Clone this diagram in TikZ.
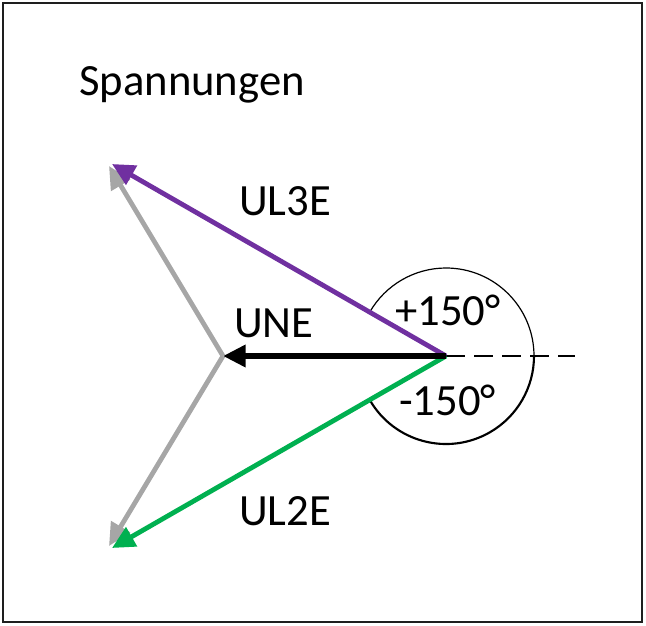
\documentclass[tikz,border=0pt]{standalone}
\usepackage{fontspec}
\setmainfont{Carlito}
\usepackage{tikz}
\usetikzlibrary{arrows.meta}
\definecolor{ulpurple}{RGB}{112,48,160}
\definecolor{ulgreen}{RGB}{0,176,80}
\definecolor{ulgrey}{RGB}{166,166,166}
\tikzset{
  lbl/.style={anchor=base west, inner sep=0pt, font=\fontsize{33.5}{40}\selectfont},
  vec/.style={line width=3.6pt, -{Triangle[length=17pt, width=16pt]}},
}
\begin{document}
\begin{tikzpicture}[x=0.75pt,y=0.75pt,yscale=-1,xscale=1]
\useasboundingbox (0,0) rectangle (646,625);

%Frame
\draw [line width=1.5pt, color={rgb, 255:red, 30; green, 30; blue, 30}] (3,3) rectangle (642,622);

%Points
\coordinate (O) at (446,356);
\coordinate (C) at (223,356);
\coordinate (G3) at (109,166);
\coordinate (G2) at (109,546);
\coordinate (L3) at (112,164);
\coordinate (L2) at (112,548);
\coordinate (D) at (575,356);

%Grey star
\draw [vec, color=ulgrey] (C) -- (G3);
\draw [vec, color=ulgrey] (C) -- (G2);

%Dashed reference line
\draw [line width=1.2pt, dash pattern=on 14pt off 7pt] (O) -- (D);

%Angle arcs
\draw [line width=1.6pt] (O) ++(150:88) arc [start angle=150, end angle=0, radius=88];
\draw [line width=0.9pt] (O) ++(0:88) arc [start angle=0, end angle=-150, radius=88];

%Vectors
\draw [vec, color=ulpurple] (O) -- (L3);
\draw [vec, color=ulgreen] (O) -- (L2);
\draw [line width=4.3pt, -{Triangle[length=17pt, width=16pt]}] (O) -- (C);

% Text Node
\node (title) [lbl] at (79,95) {Spannungen};
% Text Node
\node (ul3e) [lbl] at (239,215) {UL3E};
% Text Node
\node (une) [lbl] at (234,337) {UNE};
% Text Node
\node (plus) [lbl] at (395,325) {+150°};
% Text Node
\node (minus) [lbl] at (399,415) {-150°};
% Text Node
\node (ul2e) [lbl] at (239,525) {UL2E};

\end{tikzpicture}
\end{document}
